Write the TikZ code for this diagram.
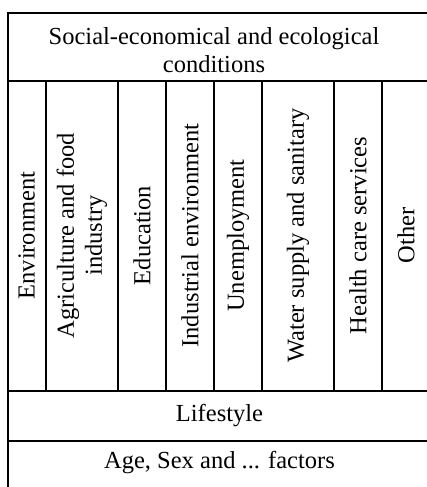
\documentclass[tikz,border=0pt]{standalone}
\usepackage{fontspec}
\setmainfont{Liberation Serif}
\begin{document}
\begin{tikzpicture}[x=1pt,y=-1pt]
\tikzstyle{every node}+=[inner sep=0pt, align=center, font=\fontsize{24.5}{28}\selectfont]
\tikzstyle{colname}=[rotate=90]
\useasboundingbox (0,0) rectangle (427,487);
\clip (0,0) rectangle (427,487);
\draw [black, line width=2pt] (7.5,13) rectangle (440,500);
\draw [black, line width=2pt] (7.5,81) -- (440,81);
\draw [black, line width=2pt] (7.5,390.5) -- (440,390.5);
\draw [black, line width=2pt] (7.5,440.5) -- (440,440.5);
\draw [black, line width=2pt] (45.7,81) -- (45.7,390.5);
\draw [black, line width=2pt] (118.3,81) -- (118.3,390.5);
\draw [black, line width=2pt] (166,81) -- (166,390.5);
\draw [black, line width=2pt] (214.3,81) -- (214.3,390.5);
\draw [black, line width=2pt] (262,81) -- (262,390.5);
\draw [black, line width=2pt] (334,81) -- (334,390.5);
\draw [black, line width=2pt] (382,81) -- (382,390.5);
\node (cond) at (214,50) {Social-economical and ecological\\conditions};
\node [colname] (env) at (26.6,235.5) {Environment};
\node [colname] (agri) at (82,235.5) {Agriculture and food\\industry};
\node [colname] (edu) at (142,235.5) {Education};
\node [colname] (ind) at (190,235.5) {Industrial environment};
\node [colname] (unemp) at (238,235.5) {Unemployment};
\node [colname] (water) at (298,235.5) {Water supply and sanitary};
\node [colname] (health) at (358,235.5) {Health care services};
\node [colname] (other) at (406,235.5) {Other};
\node (life) at (219.5,416) {Lifestyle};
\node (age) at (219.5,463) {Age, Sex and ... factors};
\end{tikzpicture}
\end{document}
